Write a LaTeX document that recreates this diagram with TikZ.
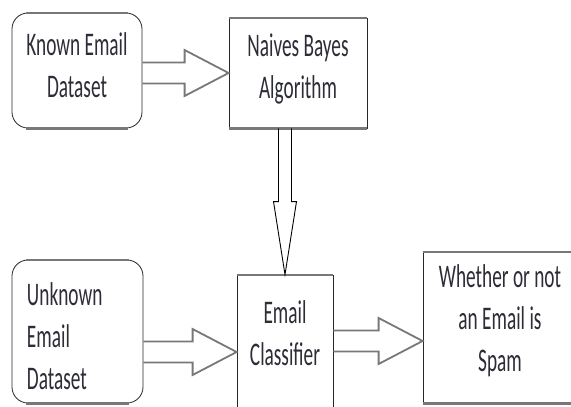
\documentclass[tikz,border=0pt]{standalone}
\usepackage{fontspec}
\newfontfamily\diagfont[FakeStretch=0.585]{Carlito}
\usetikzlibrary{calc}
\definecolor{txt}{RGB}{45,45,55}
\definecolor{edgegray}{RGB}{120,120,120}
\definecolor{sidegray}{RGB}{40,40,40}
\newcommand\blockarrowh[2]{%
  \draw[harrow] let \p1=#1, \p2=#2 in
   (\x1,\y2+10.5pt) -- (\x2-44pt,\y2+10.5pt) -- (\x2-44pt,\y2+23pt) -- (\x2,\y2)
   -- (\x2-44pt,\y2-23pt) -- (\x2-44pt,\y2-10.5pt) -- (\x1,\y2-10.5pt);
}
\begin{document}
\begin{tikzpicture}[x=1pt,y=-1pt,
  box/.style={draw=sidegray, line width=0.8pt, inner sep=0pt,
    font=\diagfont\fontsize{33}{42}\selectfont, text=txt, align=center, text depth=10pt},
  rbox/.style={box, rounded corners=16pt},
  hedge/.style={draw=edgegray, line width=2.2pt},
  harrow/.style={draw=edgegray, line width=1.8pt, line join=miter},
  varrow/.style={draw=black, line width=0.9pt, line join=miter}]
\clip (0,0) rectangle (571,407);
\fill[white] (0,0) rectangle (571,407);

\node[rbox, minimum width=130pt, minimum height=115pt, text height=63pt] (known) at (77,70.5) {Known Email\\Dataset};
\node[box, minimum width=138pt, minimum height=110pt, text height=60pt] (naives) at (298,73) {Naives Bayes\\Algorithm};
\node[rbox, minimum width=131pt, minimum height=143pt, text height=24pt, text depth=77pt, align=left, text width=101pt, inner xsep=15pt] (unknown) at (77.5,331.5) {Unknown\\Email\\Dataset};
\node[box, minimum width=96pt, minimum height=145pt, text height=45pt] (classifier) at (285,347.5) {Email\\Classifier};
\node[box, minimum width=154pt, minimum height=151pt, text height=97pt] (whether) at (500,327.5) {Whether or not\\an Email is\\Spam};

\foreach \n in {naives,classifier,whether} {
  \draw[hedge] (\n.north west) -- (\n.north east);
  \draw[hedge] (\n.south west) -- (\n.south east);
}
\foreach \n in {known,unknown} {
  \draw[hedge] ([xshift=14pt]\n.north west) -- ([xshift=-14pt]\n.north east);
  \draw[hedge] ([xshift=14pt]\n.south west) -- ([xshift=-14pt]\n.south east);
}

\blockarrowh{(known.east)}{(naives.west)}
\blockarrowh{(unknown.east)}{([yshift=-4.5pt]classifier.west)}
\blockarrowh{(classifier.east)}{([yshift=-13.5pt]whether.west)}

\draw[varrow] let \p1=(naives.south -| classifier.north), \p2=(classifier.north) in
  (\x2-6.5pt,\y1) -- (\x2-6.5pt,\y2+73pt) -- (\x2-11.5pt,\y2+73pt) -- (\x2,\y2)
  -- (\x2+11.5pt,\y2+73pt) -- (\x2+6.5pt,\y2+73pt) -- (\x2+6.5pt,\y1);
\end{tikzpicture}
\end{document}
